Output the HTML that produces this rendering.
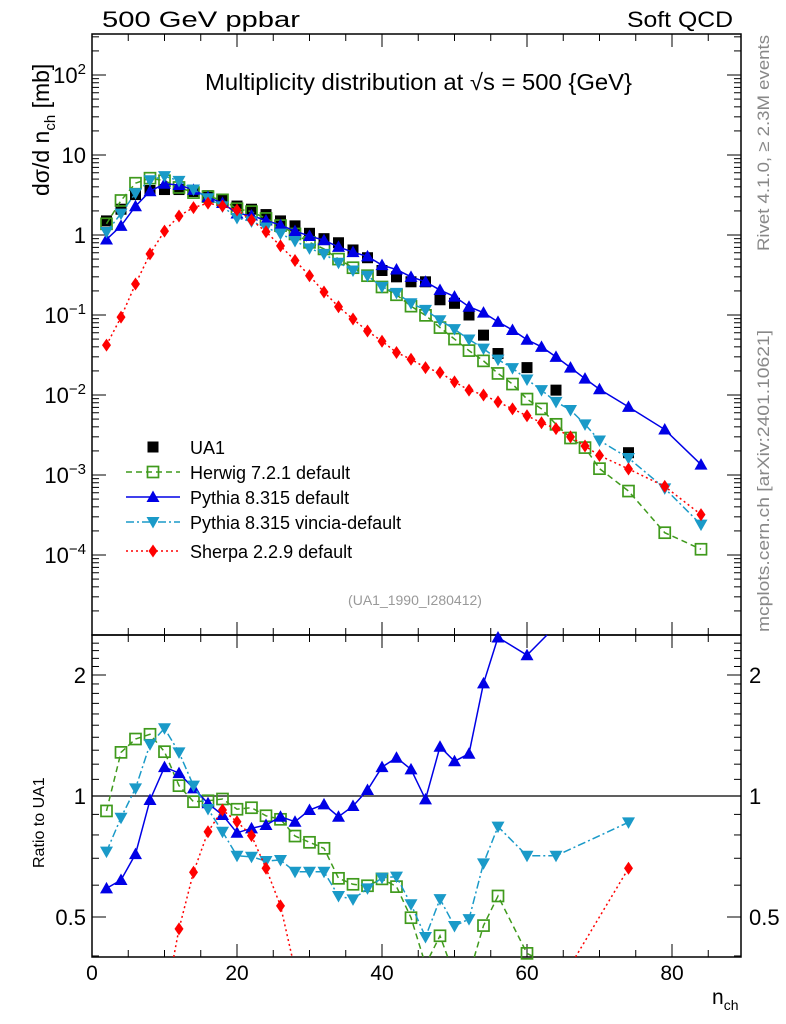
<!DOCTYPE html>
<html><head><meta charset="utf-8"><style>
html,body{margin:0;padding:0;background:#fff;width:786px;height:1024px;overflow:hidden;position:relative}
svg{display:block;position:absolute;left:0;top:0;font-family:"Liberation Sans",sans-serif}
</style></head><body>
<svg id="chart" width="786" height="1024" viewBox="0 0 786 1024" xmlns="http://www.w3.org/2000/svg">
<text x="102" y="27" font-size="22" textLength="198" lengthAdjust="spacingAndGlyphs">500 GeV ppbar</text>
<text x="627" y="27" font-size="22" textLength="106" lengthAdjust="spacingAndGlyphs">Soft QCD</text>
<text x="205" y="90" font-size="23" textLength="427" lengthAdjust="spacingAndGlyphs">Multiplicity distribution at √s = 500 {GeV}</text>
<text transform="translate(49,196) rotate(-90)" font-size="23">dσ/d n<tspan font-size="15" dy="6">ch</tspan><tspan dy="-6"> [mb]</tspan></text>
<text transform="translate(44,868) rotate(-90)" font-size="16">Ratio to UA1</text>
<text x="712" y="1004" font-size="21">n<tspan font-size="14" dy="6">ch</tspan></text>
<text x="415" y="605" font-size="14" fill="#999" text-anchor="middle">(UA1_1990_I280412)</text>
<text transform="translate(769,251) rotate(-90)" font-size="17" fill="#888" textLength="216" lengthAdjust="spacingAndGlyphs">Rivet 4.1.0, ≥ 2.3M events</text>
<text transform="translate(769,632) rotate(-90)" font-size="17" fill="#888" textLength="302" lengthAdjust="spacingAndGlyphs">mcplots.cern.ch [arXiv:2401.10621]</text>
</svg>
<script>
const ua1X=[2,4,6,8,10,12,14,16,18,20,22,24,26,28,30,32,34,36,38,40,42,44,46,48,50,52,54,56,60,64,74];
const ua1Y=[1.5,2.1,3.2,3.6,3.7,3.7,3.5,3.1,2.8,2.3,2.1,1.8,1.5,1.3,1.05,0.9,0.8,0.65,0.52,0.36,0.3,0.26,0.26,0.155,0.14,0.10,0.056,0.033,0.022,0.0115,0.0019];
const mcX=[2,4,6,8,10,12,14,16,18,20,22,24,26,28,30,32,34,36,38,40,42,44,46,48,50,52,54,56,58,60,62,64,66,68,70,74,79,84];
const herwigY=[1.38,2.70,4.44,5.13,4.77,3.93,3.39,3.02,2.75,2.13,1.96,1.61,1.31,1.03,0.81,0.67,0.50,0.39,0.31,0.224,0.179,0.129,0.099,0.0696,0.050,0.0359,0.0267,0.0186,0.0137,0.0089,0.0067,0.0043,0.0029,0.0022,0.0012,0.00063,0.00019,0.000118];
const pythiaY=[0.88,1.30,2.29,3.52,4.37,4.22,3.66,2.97,2.51,1.86,1.75,1.52,1.33,1.12,0.97,0.86,0.71,0.61,0.54,0.42,0.37,0.30,0.26,0.205,0.17,0.127,0.107,0.082,0.065,0.049,0.040,0.030,0.022,0.016,0.0118,0.0071,0.0037,0.00135];
const vinciaY=[1.09,1.85,3.34,4.84,5.45,4.75,3.71,2.88,2.28,1.63,1.48,1.24,1.04,0.84,0.68,0.58,0.45,0.36,0.31,0.225,0.189,0.14,0.116,0.086,0.0665,0.0494,0.038,0.0277,0.0217,0.0156,0.0115,0.0082,0.0065,0.0043,0.0027,0.00163,0.00068,0.00024];
const sherpaY=[0.042,0.094,0.244,0.58,1.12,1.73,2.2,2.5,2.3,2.05,1.54,1.1,0.73,0.48,0.31,0.194,0.127,0.089,0.063,0.047,0.034,0.028,0.022,0.0191,0.0146,0.0115,0.0100,0.0082,0.0067,0.0055,0.0045,0.0038,0.003,0.0023,0.00175,0.00119,0.00072,0.00032];
const herwigR=[0.918,1.284,1.386,1.424,1.289,1.061,0.968,0.973,0.983,0.927,0.935,0.893,0.875,0.795,0.767,0.741,0.624,0.603,0.598,0.622,0.595,0.498,0.38,0.449,0.357,0.359,0.476,0.564,0.406,0.374,0.33];
const pythiaR=[0.589,0.618,0.717,0.977,1.18,1.14,1.045,0.959,0.897,0.81,0.831,0.847,0.888,0.863,0.923,0.953,0.888,0.944,1.035,1.18,1.245,1.165,0.981,1.326,1.22,1.274,1.906,2.48,2.24,2.65,3.7];
const vinciaR=[0.727,0.883,1.045,1.345,1.474,1.284,1.061,0.928,0.815,0.71,0.706,0.689,0.693,0.648,0.648,0.648,0.564,0.553,0.589,0.626,0.63,0.538,0.446,0.554,0.475,0.494,0.68,0.839,0.71,0.71,0.86];
const sherpaR=[0.028,0.045,0.076,0.16,0.30,0.467,0.646,0.815,0.923,0.863,0.797,0.661,0.533,0.37,0.30,0.22,0.16,0.137,0.12,0.13,0.113,0.108,0.085,0.123,0.104,0.115,0.18,0.25,0.25,0.33,0.661];
const xTicks=[0,20,40,60,80];
const yTickLabels=["10^2","10","1","10^-1","10^-2","10^-3","10^-4"];
const yTickVals=[100,10,1,0.1,0.01,0.001,0.0001];
const rTickVals=[2,1,0.5];

const NS="http://www.w3.org/2000/svg";
const svg=document.getElementById('chart');
const L=92,R=741,T1=34,B1=635,B2=957;
const sx=x=>L+(x)*7.25;
const sy=v=>235-80*Math.log10(v);
const sr=r=>796-121*Math.log2(r);
function el(tag,attrs,parent){const e=document.createElementNS(NS,tag);for(const k in attrs)e.setAttribute(k,attrs[k]);(parent||svg).appendChild(e);return e;}
function txt(s,x,y,attrs,parent){const t=el('text',Object.assign({x:x,y:y},attrs),parent);t.textContent=s;return t;}
function clipRuns(P,ylo,yhi){const runs=[];let cur=[];
 for(let i=0;i<P.length-1;i++){let [x1,y1]=P[i],[x2,y2]=P[i+1];
  let t0=0,t1=1;const dy=y2-y1;
  if(dy===0){if(y1<ylo||y1>yhi){continue;}}
  else{let ta=(ylo-y1)/dy,tb=(yhi-y1)/dy;let tmin=Math.min(ta,tb),tmax=Math.max(ta,tb);t0=Math.max(0,tmin);t1=Math.min(1,tmax);if(t0>t1){if(cur.length){runs.push(cur);cur=[];}continue;}}
  const a=[x1+(x2-x1)*t0,y1+dy*t0],b=[x1+(x2-x1)*t1,y1+dy*t1];
  if(cur.length===0||t0>0){if(cur.length)runs.push(cur);cur=[a];}
  cur.push(b);if(t1<1){runs.push(cur);cur=[];}}
 if(cur.length)runs.push(cur);return runs;}

const f1=el('rect',{x:L,y:T1,width:R-L,height:B1-T1,fill:'none',stroke:'#000','stroke-width':1.5});

const f2=el('rect',{x:L,y:B1,width:R-L,height:B2-B1,fill:'none',stroke:'#000','stroke-width':1.5});


const axg=el('g',{stroke:'#000','stroke-width':1});

for(let v=0;v<=88;v+=5){const X=sx(v);const len=(v%20===0)?13:7;
 [[T1,1],[B1,-1],[B1,1],[B2,-1]].forEach(([y,d])=>el('line',{x1:X,x2:X,y1:y,y2:y+d*len},axg));}
const ayg=el('g',{stroke:'#000','stroke-width':1});

for(let e=-5;e<=2;e++){for(let m=1;m<=9;m++){const v=m*Math.pow(10,e);const Y=sy(v);if(Y<T1||Y>B1)continue;const len=m===1?14:7;
 el('line',{x1:L,x2:L+len,y1:Y,y2:Y},ayg);el('line',{x1:R,x2:R-len,y1:Y,y2:Y},ayg);}}
for(let v=0.4;v<=2.5;v+=0.1){const Y=sr(v);if(Y<B1||Y>B2)continue;const maj=Math.abs(v-1)<1e-6||Math.abs(v-2)<1e-6||Math.abs(v-0.5)<1e-6;const len=maj?14:7;
 el('line',{x1:L,x2:L+len,y1:Y,y2:Y},ayg);el('line',{x1:R,x2:R-len,y1:Y,y2:Y},ayg);}
yTickVals.forEach((v,i)=>{const s=yTickLabels[i];const Y=sy(v);
 const t=txt('',86,Y+8,{'font-size':22,'text-anchor':'end'});
 
 if(s.indexOf('^')>=0){const p=s.split('^');const a=el('tspan',{},t);a.textContent=p[0];const b=el('tspan',{dy:-9,'font-size':15},t);b.textContent=p[1].replace('-','\u2212');}
 else t.textContent=s;});
rTickVals.forEach(v=>{const Y=sr(v);
 const a=txt(String(v),86,Y+8,{'font-size':22,'text-anchor':'end'});
 const b=txt(String(v),749,Y+8,{'font-size':22});});
xTicks.forEach(v=>{const t=txt(String(v),sx(v),980,{'font-size':21,'text-anchor':'middle'});});

const rl=el('line',{x1:L,x2:R,y1:sr(1),y2:sr(1),stroke:'#000','stroke-width':1.3});


function marker(kind,X,Y,color,g){
 if(kind==='sq')return el('rect',{x:X-5.5,y:Y-5.5,width:11,height:11,fill:'#000'},g);
 if(kind==='osq')return el('rect',{x:X-5.5,y:Y-5.5,width:11,height:11,fill:'none',stroke:color,'stroke-width':1.7},g);
 if(kind==='tu')return el('polygon',{points:`${X},${Y-6.5} ${X-6.5},${Y+5} ${X+6.5},${Y+5}`,fill:color},g);
 if(kind==='td')return el('polygon',{points:`${X},${Y+6.5} ${X-6.5},${Y-5} ${X+6.5},${Y-5}`,fill:color},g);
 if(kind==='di')return el('polygon',{points:`${X},${Y-6.5} ${X-4.5},${Y} ${X},${Y+6.5} ${X+4.5},${Y}`,fill:color},g);
}
const series=[
 {name:'herwig',color:'#3f9a1c',dash:'6,4',kind:'osq',y:herwigY,r:herwigR,label:'Herwig 7.2.1 default'},
 {name:'pythia',color:'#0000e6',dash:'',kind:'tu',y:pythiaY,r:pythiaR,label:'Pythia 8.315 default'},
 {name:'vincia',color:'#1a9ac8',dash:'8,3,2,3',kind:'td',y:vinciaY,r:vinciaR,label:'Pythia 8.315 vincia-default'},
 {name:'sherpa',color:'#ff0000',dash:'2,3',kind:'di',y:sherpaY,r:sherpaR,label:'Sherpa 2.2.9 default'}];
const ug=el('g',{});
ua1X.forEach((x,i)=>{const m=marker('sq',sx(x),sy(ua1Y[i]),'#000',ug);});
series.forEach(s=>{
 const g=el('g',{});
 const pts=mcX.map((x,i)=>sx(x)+','+sy(s.y[i])).join(' ');
 const pl=el('polyline',{points:pts,fill:'none',stroke:s.color,'stroke-width':1.5,'stroke-dasharray':s.dash},g);
 
 mcX.forEach((x,i)=>{const m=marker(s.kind,sx(x),sy(s.y[i]),s.color,g);});
 const g2=el('g',{});
 const P=ua1X.map((x,i)=>[sx(x),sr(s.r[i])]);
 clipRuns(P,B1,B2).forEach(run=>{
  const pl2=el('polyline',{points:run.map(p=>p[0].toFixed(1)+','+p[1].toFixed(1)).join(' '),fill:'none',stroke:s.color,'stroke-width':1.5,'stroke-dasharray':s.dash},g2);
  });
 P.forEach(([X,Y])=>{if(Y<B1||Y>B2)return;const m=marker(s.kind,X,Y,s.color,g2);});
});

const lg=el('g',{});
const ly=[447,472,497,522,551];
const e0=marker('sq',153,ly[0],'#000',lg);
const t0=txt('UA1',190,ly[0]+7,{'font-size':18},lg);
series.forEach((s,i)=>{const Y=ly[i+1];
 const ln=el('line',{x1:126,x2:180,y1:Y,y2:Y,stroke:s.color,'stroke-width':1.5,'stroke-dasharray':s.dash},lg);
 
 const m=marker(s.kind,153,Y,s.color,lg);
 const t=txt(s.label,190,Y+7,{'font-size':18},lg);});
</script>
</body></html>
